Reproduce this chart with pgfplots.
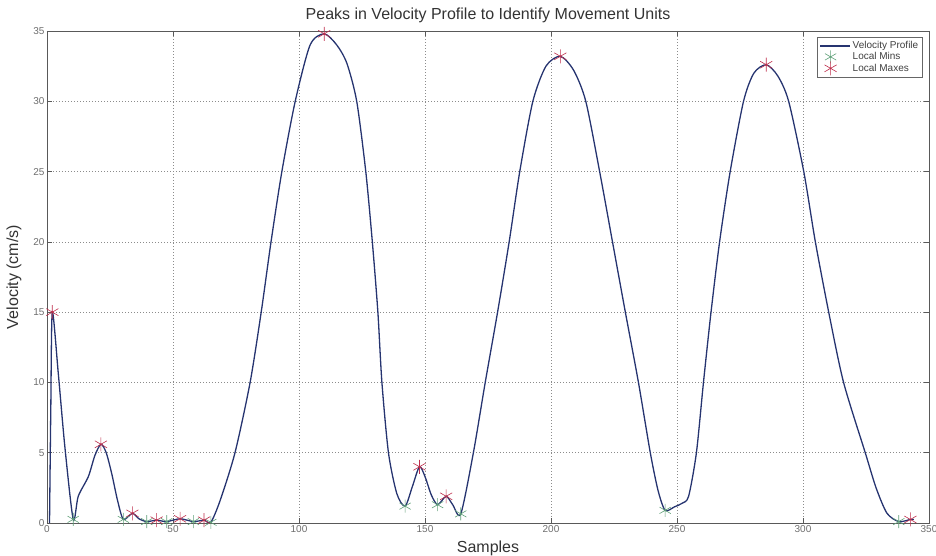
\documentclass[border=0pt]{standalone}
\usepackage{fontspec}
\setmainfont{Liberation Sans}
\usepackage{pgfplots}
\pgfplotsset{compat=1.18}
\definecolor{vel}{RGB}{38,52,112}
\definecolor{maxc}{RGB}{190,45,75}
\definecolor{minc}{RGB}{95,160,120}
\definecolor{tickc}{RGB}{110,110,110}
\begin{document}
\begin{tikzpicture}
\useasboundingbox (0,0) rectangle (936pt,556pt);
\begin{axis}[
  at={(47pt,33pt)}, anchor=south west,
  scale only axis, width=882pt, height=492pt,
  xmin=0, xmax=350, ymin=0, ymax=35,
  xtick={0,50,...,350}, ytick={0,5,...,35},
  tick align=inside, major tick length=5pt,
  xtick pos=both, ytick pos=both,
  axis line style={draw=black!65, line width=0.6pt},
  tick style={black!65, line width=0.6pt},
  grid=major, major grid style={black!45, line width=0.6pt, dash pattern=on 0.6pt off 2.4pt},
  /pgf/number format/assume math mode=true,
  ticklabel style={font=\fontsize{10}{10}\selectfont, text=tickc},
  xticklabel style={yshift=1pt},
  yticklabel style={xshift=1pt},
  title={Peaks in Velocity Profile to Identify Movement Units},
  title style={font=\fontsize{16}{16}\selectfont, text=black!80, at={(axis description cs:0.5,1)}, anchor=south, yshift=-1pt},
  xlabel={Samples},
  xlabel style={font=\fontsize{16}{16}\selectfont, text=black!80, at={(axis description cs:0.5,0)}, anchor=north, yshift=-14pt},
  ylabel={Velocity (cm/s)},
  ylabel style={font=\fontsize{16}{16}\selectfont, text=black!80, at={(axis description cs:0,0.5)}, anchor=south, xshift=0pt, yshift=22pt},
  legend style={at={(axis cs:349,34.9)}, anchor=north east, xshift=-4pt, yshift=-5pt,
     font=\fontsize{10}{11}\selectfont, draw=black!60, inner sep=2pt, row sep=-2pt,
     cells={anchor=west, text=black!75}},
]
\addplot[color=vel, line width=1.3pt, smooth, tension=0.45,
  legend image code/.code={\draw[vel, line width=1.3pt] (-2pt,0pt) -- (28pt,0pt);}] coordinates {
(1,0) (1.5,8) (2.1,15) (4.5,10.6) (7.1,5.4) (10.4,0.26) (12.4,1.9) (16.4,3.3) (19,4.8) (21.4,5.6)
(23.5,5.0) (25.7,3.5) (28,1.6) (30.3,0.26) (33.9,0.69) (36.5,0.3) (39.6,0.1) (43.5,0.2) (47.5,0.1)
(52.8,0.3) (58.1,0.1) (62.3,0.2) (65,0.05) (68.7,1.6) (74.6,5) (80.6,10) (85,15) (88.9,20) (93.2,25)
(98.5,30) (104.4,34.0) (110,34.8) (115,34.0) (119,32.7) (122.9,30) (126.5,25) (129.1,20) (131.3,15)
(132.9,10) (135.5,5) (138.8,2.1) (142.1,1.2) (145,2.6) (147.8,4.0) (150,3.3) (152.5,2.0) (155,1.3)
(158.4,1.9) (161,1.3) (164.2,0.65) (169.2,5) (173.9,10) (178.8,15) (183.4,20) (187.6,25) (192.8,30)
(198,32.5) (203.7,33.2) (209,32.2) (213.8,30) (219.3,25) (224.4,20) (229.5,15) (234.7,10) (239.4,5)
(242.5,2.3) (245.3,0.9) (249,1.15) (252,1.4) (254.6,1.9) (257.7,5) (260.5,10) (263.5,15) (266.9,20)
(271.1,25) (276.4,30) (280.5,32.0) (285.4,32.6) (290,31.8) (294.3,30) (300.3,25) (304.9,20) (310.2,15)
(316.1,10) (324.7,5) (329,2.5) (333.3,0.7) (338,0.1) (342.6,0.25) (344,0.25)
};
\addlegendentry{Velocity Profile}
\addplot[only marks, mark=asterisk, mark size=6.5pt, color=minc, mark options={line width=0.6pt}] coordinates {
(10.4,0.26) (30.3,0.26) (39.6,0.1) (47.5,0.1) (58.1,0.1) (65,0.05) (142.1,1.2) (155,1.3) (164.2,0.65) (245.3,0.9) (338,0.1)
};
\addlegendentry{Local Mins}
\addplot[only marks, mark=asterisk, mark size=7pt, color=maxc, mark options={line width=0.6pt}] coordinates {
(2.1,15) (21.4,5.6) (33.9,0.69) (43.5,0.2) (52.8,0.3) (62.3,0.2) (110,34.8) (147.8,4.0) (158.4,1.9) (203.7,33.2) (285.4,32.6) (342.6,0.25)
};
\addlegendentry{Local Maxes}
\end{axis}
\end{tikzpicture}
\end{document}
